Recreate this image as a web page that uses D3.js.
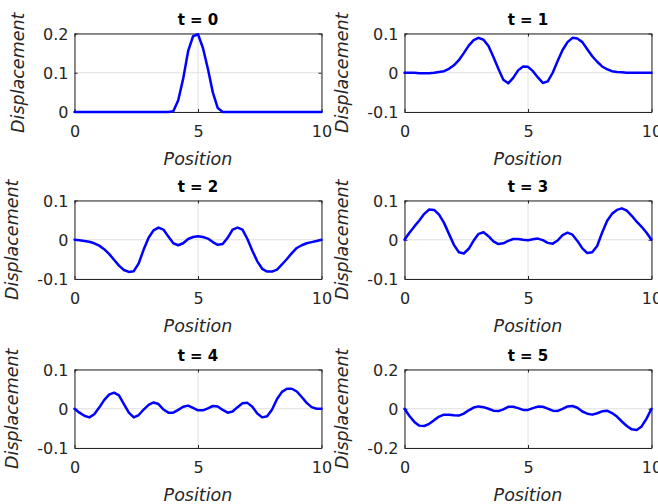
<!DOCTYPE html>
<html>
<head>
<meta charset="utf-8">
<script src="https://cdn.jsdelivr.net/npm/d3@7"></script>
<style>
  html, body { margin: 0; padding: 0; background: #fff; }
  svg { display: block; }
</style>
</head>
<body>
<svg id="chart" width="658" height="504"></svg>
<script>
// Sample positions along the string (step 0.2)
const position = d3.range(51).map(i => +(i * 0.2).toFixed(1));

// Time of each snapshot
const times = [0, 1, 2, 3, 4, 5];

// Displacement at each sample position, one array per snapshot
const dispT0 = [0,0,0,0,0,0,0,0,0,0, 0,0,0,0,0,0,0,0,0,0,
  0.002,0.030,0.085,0.155,0.193,0.198,0.163,0.110,0.050,0.010,
  0,0,0,0,0,0,0,0,0,0, 0,0,0,0,0,0,0,0,0,0, 0];
const dispT1 = [0.000,0.000,0.000,-0.001,-0.001,-0.001,0.000,0.002,0.004,0.010,
  0.019,0.032,0.050,0.069,0.083,0.089,0.084,0.068,0.040,0.010,
  -0.018,-0.027,-0.013,0.006,0.016,0.015,0.004,-0.012,-0.026,-0.022,
  0.000,0.030,0.058,0.078,0.089,0.087,0.078,0.060,0.042,0.028,
  0.016,0.009,0.004,0.002,0.001,0.000,0.000,0.000,0.000,0.000,0.000];
const dispT2 = [0.000,-0.001,-0.003,-0.005,-0.009,-0.015,-0.024,-0.036,-0.051,-0.066,
  -0.077,-0.082,-0.080,-0.060,-0.025,0.005,0.024,0.031,0.026,0.008,
  -0.009,-0.014,-0.009,0.002,0.007,0.009,0.007,0.003,-0.006,-0.013,
  -0.011,0.005,0.026,0.031,0.026,0.002,-0.028,-0.055,-0.074,-0.081,
  -0.081,-0.076,-0.063,-0.049,-0.034,-0.021,-0.014,-0.009,-0.006,-0.003,0.000];
const dispT3 = [0.000,0.018,0.034,0.049,0.066,0.077,0.076,0.064,0.043,0.015,
  -0.013,-0.032,-0.035,-0.023,-0.002,0.015,0.019,0.009,-0.004,-0.011,
  -0.009,-0.003,0.002,0.002,0.000,-0.001,0.001,0.003,-0.001,-0.008,
  -0.010,-0.002,0.012,0.018,0.013,-0.003,-0.022,-0.034,-0.032,-0.016,
  0.018,0.048,0.066,0.076,0.080,0.074,0.061,0.046,0.033,0.018,0.000];
const dispT4 = [0.000,-0.010,-0.018,-0.022,-0.014,0.003,0.022,0.036,0.041,0.034,
  0.012,-0.010,-0.022,-0.016,-0.002,0.010,0.016,0.012,-0.002,-0.010,
  -0.010,-0.003,0.005,0.008,0.002,-0.004,-0.004,0.001,0.007,0.006,
  -0.003,-0.010,-0.007,0.004,0.014,0.015,0.005,-0.012,-0.022,-0.019,
  -0.002,0.025,0.043,0.051,0.051,0.044,0.030,0.015,0.004,0.000,0.000];
const dispT5 = [0.000,-0.037,-0.067,-0.086,-0.088,-0.077,-0.058,-0.040,-0.030,-0.030,
  -0.033,-0.035,-0.025,-0.008,0.006,0.012,0.008,0.000,-0.010,-0.012,
  -0.003,0.010,0.010,0.003,-0.006,-0.006,0.003,0.011,0.010,0.001,
  -0.010,-0.011,-0.001,0.012,0.014,0.005,-0.014,-0.025,-0.030,-0.023,
  -0.013,-0.010,-0.022,-0.040,-0.065,-0.088,-0.105,-0.108,-0.090,-0.050,0.000];
const displacements = [dispT0, dispT1, dispT2, dispT3, dispT4, dispT5];

// Axis limits and tick labels
const xDomain = [0, 10];
const xTicks = [0, 5, 10];
const yDomains = [[0, 0.2], [-0.1, 0.1], [-0.1, 0.1], [-0.1, 0.1], [-0.1, 0.1], [-0.2, 0.2]];
const yTicks = [[0, 0.1, 0.2], [-0.1, 0, 0.1], [-0.1, 0, 0.1], [-0.1, 0, 0.1], [-0.1, 0, 0.1], [-0.2, 0, 0.2]];

// Layout of the 3x2 grid of axes
const colLeft = [74.5, 404.5];
const rowTop = [33.5, 200.5, 369.5];
const plotW = 247;
const plotH = 78.5;

const FONT = '"DejaVu Sans", "Liberation Sans", Arial, sans-serif';
const AX_COLOR = '#262626';
const GRID_COLOR = '#e0e0e0';
const LINE_COLOR = '#0000ff';
const tickFmt = v => (v === 0 ? '0' : String(v));

const svg = d3.select('#chart');

times.forEach((t, i) => {
  const left = colLeft[i % 2];
  const top = rowTop[Math.floor(i / 2)];
  const x = d3.scaleLinear().domain(xDomain).range([0, plotW]);
  const y = d3.scaleLinear().domain(yDomains[i]).range([plotH, 0]);

  const g = svg.append('g').attr('transform', `translate(${left},${top})`);

  // grid
  g.append('g').selectAll('line.vg').data(xTicks).join('line')
    .attr('x1', d => x(d)).attr('x2', d => x(d))
    .attr('y1', 0).attr('y2', plotH)
    .attr('stroke', GRID_COLOR).attr('stroke-width', 1);
  g.append('g').selectAll('line.hg').data(yTicks[i]).join('line')
    .attr('x1', 0).attr('x2', plotW)
    .attr('y1', d => y(d)).attr('y2', d => y(d))
    .attr('stroke', GRID_COLOR).attr('stroke-width', 1);

  // axes with inward ticks on all four sides
  const styleAxis = sel => {
    sel.attr('color', AX_COLOR).attr('font-family', FONT).attr('font-size', 16);
    sel.select('.domain').attr('stroke-width', 1);
  };
  const bottom = g.append('g').attr('transform', `translate(0,${plotH})`)
    .call(d3.axisBottom(x).tickValues(xTicks).tickFormat(tickFmt).tickSizeInner(-3).tickSizeOuter(0));
  styleAxis(bottom);
  bottom.selectAll('text').attr('y', 25).attr('dy', null).attr('fill', AX_COLOR);

  const leftAx = g.append('g')
    .call(d3.axisLeft(y).tickValues(yTicks[i]).tickFormat(tickFmt).tickSizeInner(-3).tickSizeOuter(0));
  styleAxis(leftAx);
  leftAx.selectAll('text').attr('x', -6).attr('dy', '0.36em').attr('fill', AX_COLOR);

  const topAx = g.append('g')
    .call(d3.axisTop(x).tickValues(xTicks).tickFormat('').tickSizeInner(-3).tickSizeOuter(0));
  styleAxis(topAx);
  const rightAx = g.append('g').attr('transform', `translate(${plotW},0)`)
    .call(d3.axisRight(y).tickValues(yTicks[i]).tickFormat('').tickSizeInner(-3).tickSizeOuter(0));
  styleAxis(rightAx);

  // displacement curve
  const pts = position.map((p, k) => [p, displacements[i][k]]);
  g.append('path')
    .datum(pts)
    .attr('fill', 'none')
    .attr('stroke', LINE_COLOR)
    .attr('stroke-width', 2.5)
    .attr('stroke-linejoin', 'round')
    .attr('stroke-linecap', 'round')
    .attr('d', d3.line().x(d => x(d[0])).y(d => y(d[1])));

  // title
  g.append('text')
    .attr('x', plotW / 2).attr('y', -9)
    .attr('text-anchor', 'middle')
    .attr('font-family', FONT).attr('font-size', 15).attr('font-weight', 'bold')
    .attr('fill', '#000')
    .text(`t = ${t}`);

  // x label
  g.append('text')
    .attr('x', plotW / 2).attr('y', plotH + 52.5)
    .attr('text-anchor', 'middle')
    .attr('font-family', FONT).attr('font-size', 17.5).attr('font-style', 'italic')
    .attr('fill', AX_COLOR)
    .text('Position');

  // y label, placed just outside the widest tick label
  let minX = 0;
  leftAx.selectAll('text').each(function () {
    const b = this.getBBox();
    minX = Math.min(minX, b.x - 6);
  });
  g.append('text')
    .attr('transform', `translate(${minX - 13},${plotH / 2}) rotate(-90)`)
    .attr('text-anchor', 'middle')
    .attr('font-family', FONT).attr('font-size', 17.5).attr('font-style', 'italic')
    .attr('fill', AX_COLOR)
    .text('Displacement');
});
</script>
</body>
</html>
